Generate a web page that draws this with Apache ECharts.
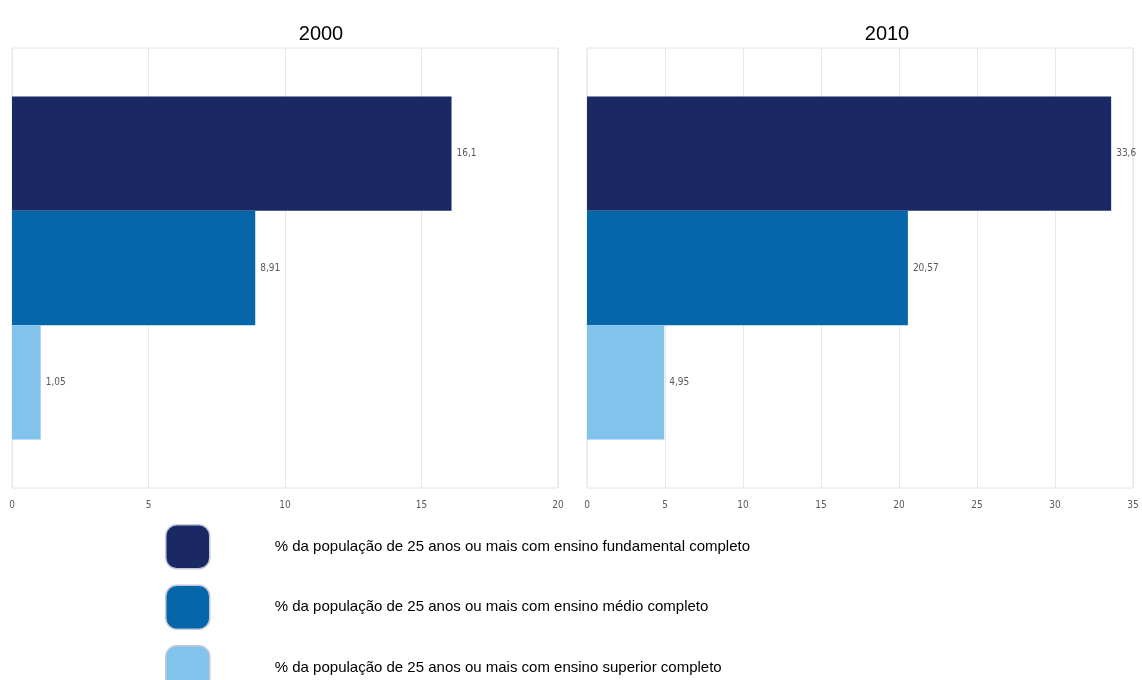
<!DOCTYPE html>
<html>
<head>
<meta charset="utf-8">
<script src="https://cdn.jsdelivr.net/npm/echarts@6/dist/echarts.min.js"></script>
<style>html,body{margin:0;padding:0;background:#fff;}#chart{width:1142px;height:680px;}</style>
</head>
<body>
<div id="chart"></div>
<script>
const years = ['2000', '2010'];
const seriesNames = [
  '% da população de 25 anos ou mais com ensino fundamental completo',
  '% da população de 25 anos ou mais com ensino médio completo',
  '% da população de 25 anos ou mais com ensino superior completo'
];
const fundamental = [16.1, 33.6];
const medio = [8.91, 20.57];
const superior = [1.05, 4.95];
const axisMax = [20, 35];
const axisInterval = 5;
const colors = ['#1a2963', '#0567a9', '#82c3ec'];

const values = [fundamental, medio, superior];
const tickFont = "'Liberation Sans Narrow', 'DejaVu Sans Condensed', sans-serif";

const chart = echarts.init(document.getElementById('chart'));
const series = [];
years.forEach((y, gi) => {
  values.forEach((arr, si) => {
    series.push({
      name: seriesNames[si],
      type: 'bar',
      xAxisIndex: gi,
      yAxisIndex: gi,
      data: [arr[gi]],
      barGap: '0%',
      barCategoryGap: '22%',
      itemStyle: { color: colors[si] },
      label: {
        show: true,
        position: 'right',
        distance: 5,
        fontFamily: tickFont,
        fontSize: 10,
        color: '#595959',
        formatter: p => String(p.value).replace('.', ',')
      }
    });
  });
});

chart.setOption({
  animation: false,
  color: colors,
  title: [
    { text: years[0], left: 316, top: 19, textAlign: 'center', textStyle: { fontSize: 20, fontWeight: 'normal', color: '#000', fontFamily: 'Liberation Sans, Arial, sans-serif' } },
    { text: years[1], left: 882, top: 19, textAlign: 'center', textStyle: { fontSize: 20, fontWeight: 'normal', color: '#000', fontFamily: 'Liberation Sans, Arial, sans-serif' } }
  ],
  grid: [
    { left: 12, right: 584, top: 48, bottom: 192, show: true, borderColor: '#e4e4e4', borderWidth: 1 },
    { left: 587, right: 9, top: 48, bottom: 192, show: true, borderColor: '#e4e4e4', borderWidth: 1 }
  ],
  xAxis: years.map((y, i) => ({
    type: 'value',
    gridIndex: i,
    min: 0,
    max: axisMax[i],
    interval: axisInterval,
    axisLine: { show: false },
    axisTick: { show: false },
    splitLine: { show: true, lineStyle: { color: '#e8e8e8' } },
    axisLabel: { fontFamily: tickFont, fontSize: 10, color: '#595959', margin: 12 }
  })),
  yAxis: years.map((y, i) => ({
    type: 'category',
    gridIndex: i,
    data: [y],
    inverse: true,
    axisLine: { show: false },
    axisTick: { show: false },
    axisLabel: { show: false },
    splitLine: { show: false }
  })),
  legend: {
    orient: 'vertical',
    left: 165,
    top: 524,
    height: 200,
    padding: 0,
    itemWidth: 44,
    itemHeight: 44,
    itemGap: 15,
    icon: 'roundRect',
    data: seriesNames,
    selectedMode: false,
    itemStyle: { borderColor: '#c4c8d8', borderWidth: 1.5 },
    textStyle: { fontSize: 15, color: '#000', fontFamily: 'Liberation Sans, Arial, sans-serif', padding: [0, 0, 0, 60] }
  },
  series: series
});
</script>
</body>
</html>
